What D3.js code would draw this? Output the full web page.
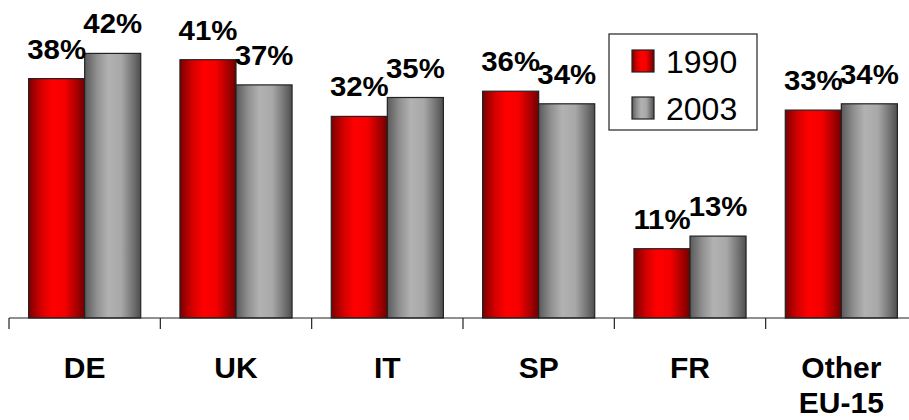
<!DOCTYPE html>
<html>
<head>
<meta charset="utf-8">
<script src="https://cdn.jsdelivr.net/npm/d3@7"></script>
<style>
  html, body { margin: 0; padding: 0; background: #fff; }
  svg { display: block; font-family: Arial, "Liberation Sans", sans-serif; }
</style>
</head>
<body>
<svg id="chart" width="909" height="420"></svg>
<script>
// Share by country, 1990 vs 2003
const categories = ["DE", "UK", "IT", "SP", "FR", "Other\nEU-15"];
const seriesNames = ["1990", "2003"];
const values1990 = [38, 41, 32, 36, 11, 33];
const values2003 = [42, 37, 35, 34, 13, 34];

const svg = d3.select("#chart");
const W = 909, H = 420;
const baseY = 318;

const x0 = d3.scaleBand().domain(categories).range([9, 917]).paddingInner(0).paddingOuter(0);
const x1 = d3.scaleBand().domain(seriesNames).range([0, x0.bandwidth()]).paddingInner(0).paddingOuter(0.35);
const y = d3.scaleLinear().domain([0, 50]).range([baseY, 3]);

// Cylinder-like horizontal gradients
const defs = svg.append("defs");
function grad(id, stops) {
  const g = defs.append("linearGradient").attr("id", id)
    .attr("x1", "0%").attr("x2", "100%").attr("y1", "0%").attr("y2", "0%");
  stops.forEach(([o, c]) => g.append("stop").attr("offset", o).attr("stop-color", c));
}
grad("g1990", [["0%", "#7a0000"], ["22%", "#d40000"], ["42%", "#ff0000"], ["65%", "#f40000"], ["88%", "#a00000"], ["100%", "#6e0000"]]);
grad("g2003", [["0%", "#5a5a5a"], ["22%", "#909090"], ["42%", "#b2b2b2"], ["65%", "#a8a8a8"], ["88%", "#6e6e6e"], ["100%", "#4e4e4e"]]);
const fills = { "1990": "url(#g1990)", "2003": "url(#g2003)" };

const rows = categories.map((c, i) => ({
  cat: c,
  items: [{ s: "1990", v: values1990[i] }, { s: "2003", v: values2003[i] }]
}));

const groups = svg.append("g").selectAll("g.grp").data(rows).join("g")
  .attr("class", "grp")
  .attr("transform", d => `translate(${x0(d.cat)},0)`);

groups.selectAll("rect").data(d => d.items).join("rect")
  .attr("x", d => x1(d.s))
  .attr("y", d => y(d.v))
  .attr("width", x1.bandwidth())
  .attr("height", d => baseY - y(d.v))
  .attr("fill", d => fills[d.s])
  .attr("stroke", "#222")
  .attr("stroke-width", 1.2);

groups.selectAll("text.val").data(d => d.items).join("text")
  .attr("class", "val")
  .attr("text-anchor", "middle")
  .attr("font-weight", "bold")
  .attr("font-size", 28)
  .attr("fill", "#000")
  .attr("transform", d => `translate(${x1(d.s) + x1.bandwidth() / 2},${y(d.v) - 20}) scale(1.05,1)`)
  .text(d => d.v + "%");

// Category axis
const axis = svg.append("g");
axis.append("line").attr("x1", 9).attr("x2", W).attr("y1", baseY).attr("y2", baseY)
  .attr("stroke", "#222").attr("stroke-width", 1.2);
axis.selectAll("line.tick").data(categories).join("line").attr("class", "tick")
  .attr("x1", d => x0(d)).attr("x2", d => x0(d))
  .attr("y1", baseY).attr("y2", baseY + 11)
  .attr("stroke", "#222").attr("stroke-width", 1.2);

const catText = axis.selectAll("text.cat").data(categories).join("text")
  .attr("class", "cat")
  .attr("text-anchor", "middle")
  .attr("font-weight", "bold")
  .attr("font-size", 30)
  .attr("x", d => x0(d) + x0.bandwidth() / 2)
  .attr("y", 378);
catText.selectAll("tspan").data(d => d.split("\n")).join("tspan")
  .attr("x", function () { return d3.select(this.parentNode).attr("x"); })
  .attr("dy", (d, i) => i === 0 ? 0 : 35)
  .text(d => d);

// Legend
const lg = svg.append("g");
lg.append("rect").attr("x", 609).attr("y", 34).attr("width", 148).attr("height", 96)
  .attr("fill", "#fff").attr("stroke", "#222").attr("stroke-width", 1.2);
const li = lg.selectAll("g.item").data(seriesNames).join("g").attr("class", "item")
  .attr("transform", (d, i) => `translate(632,${50 + i * 47})`);
li.append("rect").attr("width", 22).attr("height", 22)
  .attr("fill", d => fills[d]).attr("stroke", "#222").attr("stroke-width", 1.2);
li.append("text").attr("x", 34).attr("y", 23)
  .attr("font-size", 32).attr("fill", "#000").text(d => d);
</script>
</body>
</html>
